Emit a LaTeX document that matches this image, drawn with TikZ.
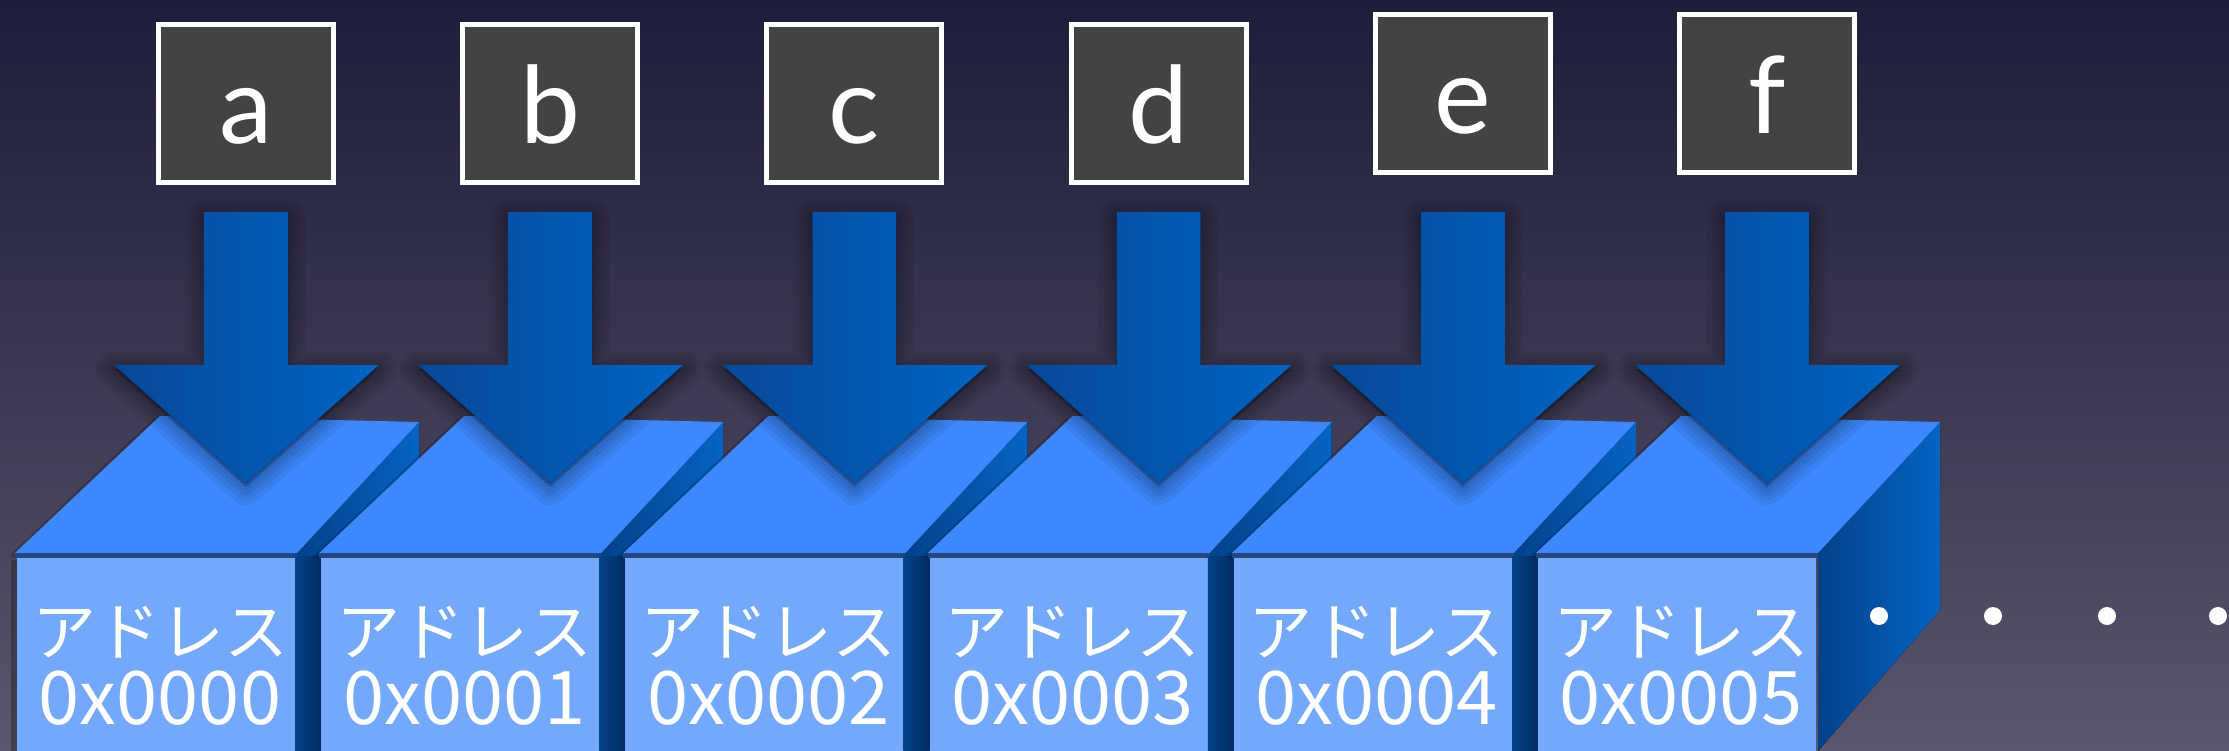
\documentclass[tikz,border=0pt]{standalone}
\usepackage{fontspec}
\newfontfamily\jpfont{Noto Sans CJK JP}
\newfontfamily\labfont{Lato}
\usetikzlibrary{calc}
\definecolor{bgtop}{HTML}{1D1E3A}
\definecolor{bgmid}{HTML}{3B3851}
\definecolor{bgbot}{HTML}{5A566E}
\definecolor{boxfill}{HTML}{434343}
\definecolor{arrowL}{HTML}{08489A}
\definecolor{arrowR}{HTML}{0064C2}
\definecolor{topface}{HTML}{3D88FE}
\definecolor{frontface}{HTML}{74A8FB}
\definecolor{sideL}{HTML}{03418A}
\definecolor{sideR}{HTML}{0564C4}
\definecolor{sideshadow}{HTML}{022C60}
\definecolor{seam}{HTML}{23477F}
\begin{document}
\begin{tikzpicture}[x=1pt,y=-1pt,
  lbox/.style={draw=white, line width=5pt, fill=boxfill, minimum width=175pt, minimum height=158pt, inner sep=0pt},
  lbl/.style={text=white, font=\labfont\fontsize{107}{107}\selectfont, anchor=base, inner sep=0pt},
  kana/.style={text=white, font=\jpfont\fontsize{64}{64}\selectfont, inner sep=0pt},
  addr/.style={text=white, font=\jpfont\fontsize{74}{74}\selectfont, inner sep=0pt},
  topf/.style={fill=topface},
  frontf/.style={fill=frontface},
  sidef/.style={left color=sideL, right color=sideR},
  arrowf/.style={left color=arrowL, right color=arrowR},
  halo/.style={draw=black, fill=black, line join=round, opacity=0.06},
  dot/.style={fill=white}]
\useasboundingbox (0,0) rectangle (2229,751);
\shade[top color=bgtop, bottom color=bgbot, middle color=bgmid] (0,0) rectangle (2229,751);

% top label boxes
\foreach \i/\l/\yo in {0/a/0,1/b/0,2/c/0,3/d/0,4/e/-10,5/f/-10}{
  \pgfmathsetmacro{\cx}{246+304.2*\i}
  \pgfmathsetmacro{\cy}{104+\yo}
  \node[lbox] (box\i) at (\cx,\cy) {};
  \node[lbl] (lab\i) at ($(box\i.center)+(0,40)$) {\l};
}

% cubes, left to right
\foreach \i/\ad in {0/0x0000,1/0x0001,2/0x0002,3/0x0003,4/0x0004,5/0x0005}{
  \pgfmathsetmacro{\X}{304.2*\i}
  \begin{scope}[xshift=\X pt]
    \ifnum\i>0
      \shade[left color=sideL, right color=sideshadow] (-9,556) rectangle (17,751);
    \else
      \fill[black, opacity=0.25] (11,560) rectangle (17,751);
    \fi
    \fill[black, opacity=0.18] (9,556) -- (154,418) -- (160,420) -- (20,560) -- cycle;
    \fill[sidef] (297,553) -- (419,422) -- (419,610) -- (297,751) -- cycle;
    \fill[topf] (15,553) -- (160,416) -- (419,422) -- (297,553) -- cycle;
    \fill[seam] (15,553) rectangle (297,558);
    \fill[frontf] (17,558) rectangle (295,751);
    \node[kana] (kana\i) at (160,632) {アドレス};
    \node[addr] (addr\i) at (160,698) {\ad};
  \end{scope}
}

% arrows
\foreach \i in {0,...,5}{
  \pgfmathsetmacro{\X}{304.2*\i}
  \begin{scope}[xshift=\X pt]
    \foreach \w in {36,26,16,8}{
      \path[halo, line width=\w pt] (204,218) -- (288,218) -- (288,369) -- (379,369) -- (246,487) -- (114,369) -- (204,369) -- cycle;
    }
    \fill[arrowf] (204,212) -- (288,212) -- (288,365) -- (379,365) -- (246,483) -- (114,365) -- (204,365) -- cycle;
  \end{scope}
}

% dots
\foreach \k/\dx in {1/1879,2/1993,3/2107,4/2218}{
  \fill[dot] (\dx,616) circle [radius=9pt];
}
\end{tikzpicture}
\end{document}
